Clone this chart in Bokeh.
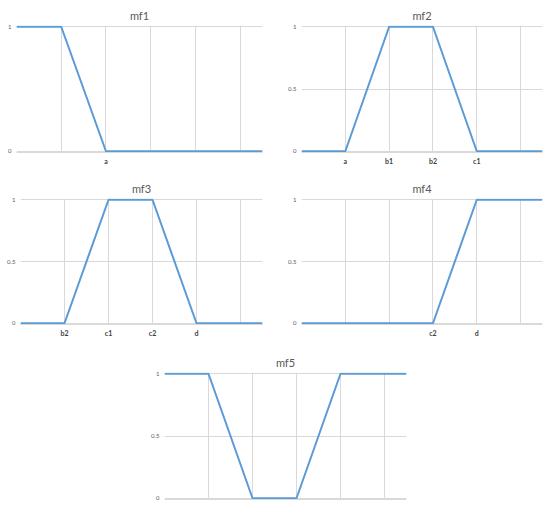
from bokeh.plotting import figure
from bokeh.models import FixedTicker, Range1d, Spacer
from bokeh.layouts import column, row
from bokeh.embed import file_html
from bokeh.resources import INLINE

# ---- data ----
grid_positions = [0, 1, 2, 3, 4, 5]

mf1_x = [0, 1, 2, 5.5]
mf1_y = [1, 1, 0, 0]
mf1_labels = {2: "a"}

mf2_x = [0, 1, 2, 3, 4, 5.5]
mf2_y = [0, 0, 1, 1, 0, 0]
mf2_labels = {1: "a", 2: "b1", 3: "b2", 4: "c1"}

mf3_x = [0, 1, 2, 3, 4, 5.5]
mf3_y = [0, 0, 1, 1, 0, 0]
mf3_labels = {1: "b2", 2: "c1", 3: "c2", 4: "d"}

mf4_x = [0, 3, 4, 5.5]
mf4_y = [0, 0, 1, 1]
mf4_labels = {3: "c2", 4: "d"}

mf5_x = [0, 1, 2, 3, 4, 5.5]
mf5_y = [1, 1, 0, 0, 1, 1]
mf5_labels = {}

FONT = "Lato"
GRID = "#d9d9d9"
LINE = "#5b9bd5"


def make(title, xs, ys, labels, yticks, w, h, bl, br, bt, bb):
    p = figure(width=w, height=h, output_backend="svg", toolbar_location=None,
               x_range=Range1d(0, 5.5), y_range=Range1d(-0.01, 1.01),
               min_border_left=bl, min_border_right=br,
               min_border_top=bt, min_border_bottom=bb)
    p.title.text = title
    p.title.align = "center"
    p.title.text_font = FONT
    p.title.text_font_size = "11px"
    p.title.text_font_style = "normal"
    p.title.text_color = "#595959"
    p.title.standoff = 7
    p.outline_line_color = None
    p.line(xs, ys, line_color=LINE, line_width=2)

    xa = p.xaxis[0]
    xa.ticker = FixedTicker(ticks=grid_positions)
    xa.major_label_overrides = {t: labels.get(t, "") for t in grid_positions}
    xa.axis_line_color = GRID
    xa.major_tick_line_color = None
    xa.minor_tick_line_color = None
    xa.major_tick_out = 0
    xa.major_tick_in = 0
    xa.minor_tick_out = 0
    xa.minor_tick_in = 0
    xa.major_label_text_font = FONT
    xa.major_label_text_font_size = "7px"
    xa.major_label_text_font_style = "bold"
    xa.major_label_text_color = "#404040"
    xa.major_label_standoff = 4

    ya = p.yaxis[0]
    ya.ticker = FixedTicker(ticks=yticks)
    ya.axis_line_color = None
    ya.major_tick_line_color = None
    ya.minor_tick_line_color = None
    ya.major_tick_out = 0
    ya.major_tick_in = 0
    ya.minor_tick_out = 0
    ya.minor_tick_in = 0
    ya.major_label_text_font = FONT
    ya.major_label_text_font_size = "6px"
    ya.major_label_text_color = "#595959"
    ya.major_label_standoff = 5

    p.xgrid.grid_line_color = GRID
    p.ygrid.grid_line_color = GRID
    return p


p1 = make("mf1", mf1_x, mf1_y, mf1_labels, [0, 1], 275, 170, 16, 13, 25, 18)
p2 = make("mf2", mf2_x, mf2_y, mf2_labels, [0, 0.5, 1], 275, 170, 26, 8, 25, 18)
p3 = make("mf3", mf3_x, mf3_y, mf3_labels, [0, 0.5, 1], 275, 172, 20, 13, 27, 18)
p4 = make("mf4", mf4_x, mf4_y, mf4_labels, [0, 0.5, 1], 275, 172, 26, 8, 28, 17)
p5 = make("mf5", mf5_x, mf5_y, mf5_labels, [0, 0.5, 1], 275, 166, 24, 9, 30, 9)

layout = column(row(p1, p2), row(p3, p4), row(Spacer(width=140, height=166), p5))

open("out.html", "w").write(file_html(layout, INLINE))
